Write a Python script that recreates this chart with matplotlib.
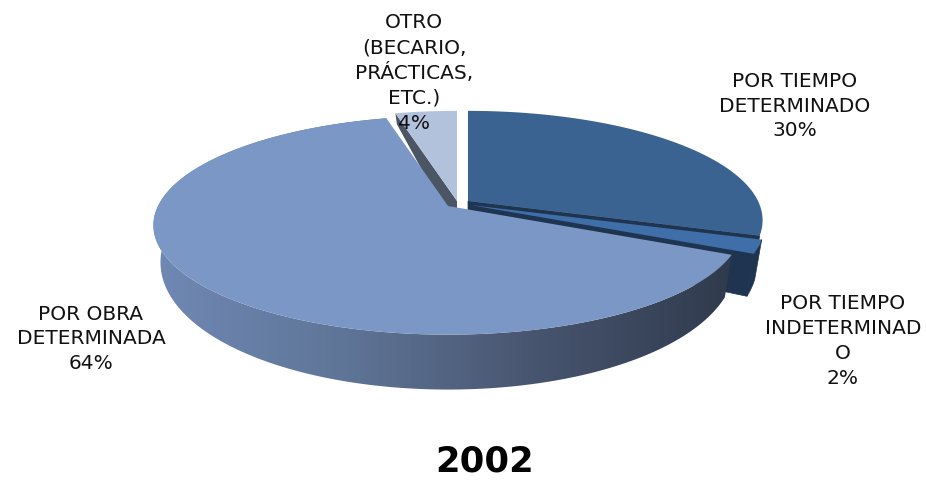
import numpy as np
import matplotlib.pyplot as plt
from matplotlib.colors import LinearSegmentedColormap
from matplotlib.patches import Polygon

# valores del grafico (2002), en orden horario desde las 12
labels = ['POR TIEMPO\nDETERMINADO', 'POR TIEMPO\nINDETERMINAD\nO', 'POR OBRA\nDETERMINADA', 'OTRO\n(BECARIO,\nPRÁCTICAS,\nETC.)']
values = [30, 2, 64, 4]
title = '2002'

top_colors = ['#3a6391', '#3f6ea9', '#7b97c5', '#b3c2dc']
side_colors = ['#1e3450', '#1e3450', '#333c4e', '#4b5563']
apex = [(468, 201), (470, 205), (448, 206), (457, 201)]
label_pos = [(795, 106), (843, 341), (91, 339), (414, 73)]
paint_order = [3, 0, 1, 2]  # de atras hacia delante

RX, RY, P = 290, 106, 0.176
BOTTOM_SCALE = 0.976


def ring(a0, a1, c):
    # borde superior e inferior del sector en perspectiva, grados desde arriba
    t = np.radians(np.linspace(a0, a1, max(int(abs(a1 - a0) * 2), 2)))
    u, v = np.sin(t), np.cos(t)
    w = 1 + P * v
    upper = np.column_stack([c[0] + RX * u / w, c[1] - RY * v / w])
    lower = c + (upper - c) * BOTTOM_SCALE
    lower[:, 1] += 33 - 25 * v
    return upper, lower


def wall_poly(upper, lower):
    return np.vstack([upper, lower[::-1]])


fig = plt.figure(figsize=(9.26, 4.8), dpi=100)
ax = fig.add_axes([0, 0, 1, 1])
ax.set_xlim(0, 926)
ax.set_ylim(480, 0)
ax.axis('off')

edges = np.cumsum([0] + values) / sum(values) * 360

for z, i in enumerate(paint_order):
    c = np.array(apex[i], dtype=float)
    up, low = ring(edges[i], edges[i + 1], c)
    c_low = c + [0, 33]
    start_cut = wall_poly(np.array([c, up[0]]), np.array([c_low, low[0]]))
    end_cut = wall_poly(np.array([c, up[-1]]), np.array([c_low, low[-1]]))

    if i == 2:
        # pared del sector grande con degradado
        wall_cmap = LinearSegmentedColormap.from_list('wall', ['#7089b5', '#5f7597', '#47546e', '#2f3a4c'])
        wall = Polygon(wall_poly(up, low), closed=True, fc='none', ec='none')
        ax.add_patch(wall)
        grad = np.linspace(0, 1, 256).reshape(1, -1)
        im = ax.imshow(grad, extent=[150, 735, 480, 0], cmap=wall_cmap, aspect='auto', zorder=z + 1)
        im.set_clip_path(wall)
        ax.set_xlim(0, 926)
        ax.set_ylim(480, 0)
    elif i == 3:
        ax.add_patch(Polygon(start_cut, closed=True, fc=side_colors[i], ec='none', zorder=z + 1))
    else:
        ax.add_patch(Polygon(end_cut, closed=True, fc=side_colors[i], ec=side_colors[i], lw=0.5, zorder=z + 1))
        if i == 1:
            ax.add_patch(Polygon(wall_poly(up, low), closed=True, fc=side_colors[i], ec=side_colors[i], lw=0.5, zorder=z + 1))
    ax.add_patch(Polygon(np.vstack([c, up]), closed=True, fc=top_colors[i], ec='none', zorder=z + 1.5))

for txt, v, (x, y) in zip(labels, values, label_pos):
    ax.text(x, y, f'{txt}\n{v}%', ha='center', va='center', fontsize=14.5, family='DejaVu Sans',
            color='#111111', linespacing=1.38, zorder=10)

ax.text(485, 471, title, ha='center', va='baseline', fontsize=25.5, fontweight='bold', family='DejaVu Sans', color='black', zorder=10)

fig.savefig('out.png', dpi=100)
